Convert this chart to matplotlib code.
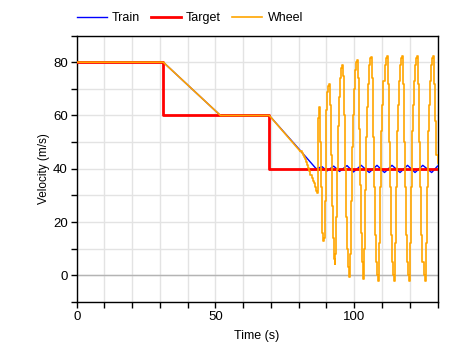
import numpy as np
import matplotlib
matplotlib.use("Agg")
import matplotlib.pyplot as plt
from matplotlib.ticker import MultipleLocator

plt.rcParams['font.family'] = ['Liberation Sans', 'DejaVu Sans']

# train speed
train_t = [0, 31.2, 51.8, 69.4, 80.6, 86.3, 88.4, 90.2, 92.6, 94.7, 97.4, 99.7,
           102.5, 105.4, 108.2, 110.9, 113.6, 116.5, 119.2, 121.9, 124.7, 127.9, 130]
train_v = [80, 80, 60, 60, 46.8, 40, 40.8, 39.2, 41.0, 39.0, 41.2, 38.8,
           41.3, 38.6, 41.3, 38.6, 41.3, 38.6, 41.3, 38.6, 41.3, 38.6, 41.0]

# target speed (step changes)
target_t = [0, 31.2, 69.4, 130]
target_v = [80, 60, 40, 40]

# wheel speed, smooth part
wheel_t = [0, 31.2, 51.8, 69.4, 80.6]
wheel_v = [80, 80, 60, 60, 46.5]

# wheel speed, sampled part (zero-order hold)
wheel_st = [80.6, 81.0, 81.4, 81.8, 82.2, 82.6, 83.0, 83.4, 83.8, 84.2, 84.6, 85.0, 85.4, 85.8, 86.2,
            86.6, 86.9, 87.2, 87.7, 88.0, 88.3,
            88.6, 89.0, 89.3, 89.7, 90.0, 90.3, 90.6, 90.9, 91.2, 91.5, 91.9, 92.2, 92.6,
            92.9, 93.2, 93.5, 93.9, 94.3, 94.6, 95.0, 95.3, 95.6, 95.9, 96.3, 96.7, 97.0, 97.4, 97.8,
            98.2, 98.5, 98.9, 99.3, 99.6, 100.0, 100.4, 100.7, 101.0, 101.3, 101.6, 102.0, 102.3, 102.7, 103.0,
            103.3, 103.6, 104.0, 104.3, 104.7, 105.0, 105.4, 105.7, 106.0, 106.3, 106.7, 107.1, 107.4, 107.8, 108.2,
            108.7, 109.0, 109.4, 109.8, 110.1, 110.5, 110.9, 111.3, 111.8, 112.1, 112.5, 112.9, 113.2, 113.6, 114.0,
            114.5, 114.8, 115.2, 115.5, 115.9, 116.3, 116.6, 117.0, 117.3, 117.6, 118.0, 118.4, 118.7, 119.1, 119.5,
            119.9, 120.2, 120.5, 120.9, 121.2, 121.6, 121.9, 122.3, 122.6, 122.9, 123.3, 123.7, 124.1, 124.5, 125.0,
            125.5, 125.8, 126.2, 126.6, 126.9, 127.3, 127.7, 128.1, 128.5, 128.8, 129.2, 129.6, 130.0]
wheel_sv = [46.5, 46.0, 45.3, 44.5, 43.5, 42.5, 41.5, 40.3, 39.0, 37.8, 36.5, 35.5, 34.5, 33.0, 31.5,
            31.0, 59, 63, 50, 33, 16,
            13, 14, 28, 48, 62, 69, 71, 72, 64, 45, 26, 14, 6,
            4.4, 8, 22, 40, 56, 67, 74, 78, 79, 75, 60, 40, 22, 10, 3,
            -0.6, 8, 28, 48, 60, 70, 77, 80, 81, 74, 55, 34, 16, 5, 0,
            -1.5, 10, 32, 52, 63, 72, 79, 81.5, 82, 74, 52, 33, 15, 5, 0,
            -2, 12, 33, 54, 64, 73, 79, 81.5, 82.5, 72, 50, 33, 15, 5, 0,
            -2, 12, 33, 54, 64, 73, 79, 81.5, 82.5, 72, 50, 33, 15, 5, 0,
            -2, 12, 33, 54, 64, 73, 79, 81.5, 82.5, 72, 50, 33, 15, 5, 0,
            -2, 12, 33, 54, 64, 73, 79, 81.5, 82.5, 72, 58, 45, 42]

fig = plt.figure(figsize=(4.62, 3.52), dpi=100)
ax = fig.add_axes([0.166, 0.142, 0.781, 0.757])

ax.axhline(0, color='#b4b4b4', lw=1, zorder=1)
ax.plot(train_t, train_v, color='blue', lw=1, label='Train', zorder=3)
ax.plot(target_t, target_v, color='red', lw=2, drawstyle='steps-post', label='Target', zorder=4)
ax.plot(wheel_t, wheel_v, color='orange', lw=1.2, label='Wheel', zorder=5)
ax.plot(wheel_st, wheel_sv, color='orange', lw=1.2, drawstyle='steps-post', zorder=5)

ax.set_xlim(0, 130)
ax.set_ylim(-10, 90)
ax.xaxis.set_major_locator(MultipleLocator(50))
ax.xaxis.set_minor_locator(MultipleLocator(10))
ax.yaxis.set_major_locator(MultipleLocator(20))
ax.yaxis.set_minor_locator(MultipleLocator(10))
ax.grid(True, which='both', color='#e3e3e3', lw=1, zorder=0)
ax.set_axisbelow(True)
ax.tick_params(which='both', direction='out', length=4, width=1, labelsize=9.5, pad=2.5)
for s in ax.spines.values():
    s.set_linewidth(1)

ax.set_xlabel('Time (s)', fontsize=9, labelpad=5)
ax.set_ylabel('Velocity (m/s)', fontsize=8.5, labelpad=2)

ax.legend(loc='center left', bbox_to_anchor=(0, 1.065), ncol=3, frameon=False,
          fontsize=9, handlelength=2.4, handletextpad=0.4, columnspacing=0.9,
          borderaxespad=0, borderpad=0)

fig.savefig('out.png', dpi=100)
